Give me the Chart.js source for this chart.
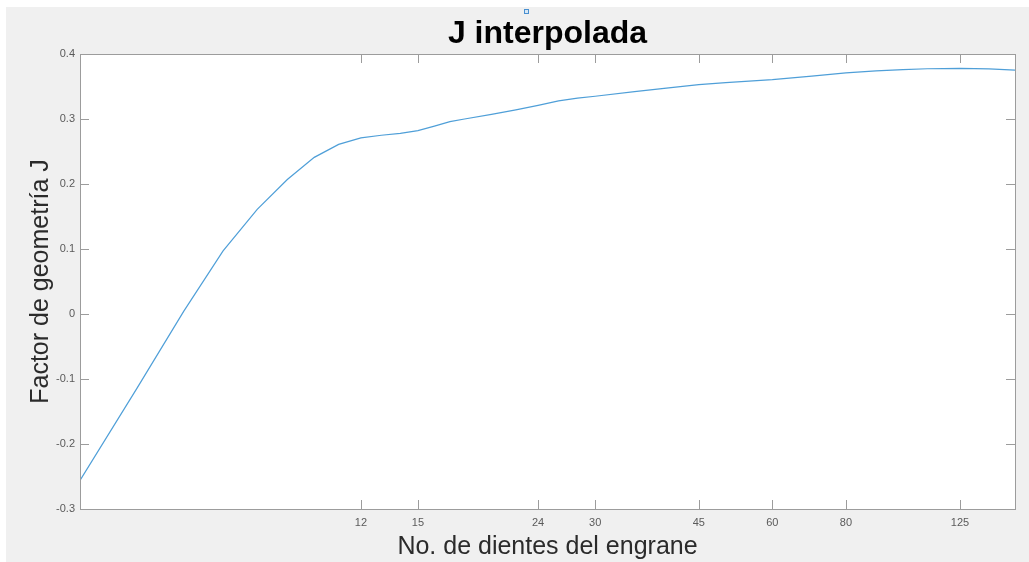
<!DOCTYPE html>
<html>
<head>
<meta charset="utf-8">
<title>J interpolada</title>
<script src="https://cdn.jsdelivr.net/npm/chart.js@4.4.1/dist/chart.umd.min.js"></script>
<style>
  html, body { margin: 0; padding: 0; background: #ffffff; }
  #wrap { width: 1029px; height: 562px; position: relative; }
  canvas { display: block; }
</style>
</head>
<body>
<div id="wrap"><canvas id="chart" width="1029" height="562"></canvas></div>
<script>
// Number of teeth of the gear (x) and interpolated geometry factor J (y)
const teeth = [4, 5, 6, 7, 8, 9, 10, 11, 12, 13, 14, 15, 16, 17, 18, 20, 22, 24, 26, 28,
               30, 35, 40, 45, 50, 60, 70, 80, 90, 100, 110, 125, 140, 155];
const jFactor = [-0.256, -0.114, 0.004, 0.097, 0.161, 0.207, 0.241, 0.261, 0.271, 0.275,
                 0.278, 0.282, 0.289, 0.296, 0.300, 0.307, 0.314, 0.321, 0.328, 0.332,
                 0.335, 0.342, 0.348, 0.353, 0.356, 0.3605, 0.366, 0.371, 0.374, 0.376,
                 0.3773, 0.378, 0.3772, 0.3752];

// Axis ticks
const xTicks = [12, 15, 24, 30, 45, 60, 80, 125];
const yTicks = [-0.3, -0.2, -0.1, 0, 0.1, 0.2, 0.3, 0.4];

const chartTitle = 'J interpolada';

const FONT = '"Liberation Sans", Arial, Helvetica, sans-serif';
const AXIS_GRAY = '#9c9c9c';
const TICK_LEN = 9;

// Figure background, white axes area, box frame, inward tick marks and title
const frame = {
  id: 'frame',
  beforeDraw(chart) {
    const { ctx, chartArea: a, width, height } = chart;
    ctx.save();
    ctx.fillStyle = '#ffffff';
    ctx.fillRect(0, 0, width, height);
    ctx.fillStyle = '#f0f0f0';
    ctx.fillRect(6, 7, width - 6, height - 7);
    ctx.fillStyle = '#ffffff';
    ctx.fillRect(a.left, a.top, a.right - a.left, a.bottom - a.top);
    ctx.restore();
  },
  afterDraw(chart) {
    const { ctx, chartArea: a, scales } = chart;
    ctx.save();
    ctx.strokeStyle = AXIS_GRAY;
    ctx.lineWidth = 1;
    ctx.beginPath();
    xTicks.forEach(v => {
      const x = Math.round(scales.x.getPixelForValue(v)) + 0.5;
      ctx.moveTo(x, a.bottom); ctx.lineTo(x, a.bottom - TICK_LEN);
      ctx.moveTo(x, a.top); ctx.lineTo(x, a.top + TICK_LEN);
    });
    yTicks.forEach(v => {
      const y = Math.round(scales.y.getPixelForValue(v)) + 0.5;
      ctx.moveTo(a.left, y); ctx.lineTo(a.left + TICK_LEN, y);
      ctx.moveTo(a.right, y); ctx.lineTo(a.right - TICK_LEN, y);
    });
    ctx.stroke();
    ctx.strokeRect(Math.round(a.left) + 0.5, Math.round(a.top) + 0.5,
                   Math.round(a.right - a.left), Math.round(a.bottom - a.top));

    // title centred over the axes area
    const cx = (a.left + a.right) / 2;
    ctx.fillStyle = '#000000';
    ctx.font = 'bold 32px ' + FONT;
    ctx.textAlign = 'center';
    ctx.textBaseline = 'alphabetic';
    ctx.fillText(chartTitle, cx, 43);

    // small square handle above the title
    ctx.strokeStyle = '#4a90d0';
    ctx.fillStyle = '#d8e8f6';
    const hx = Math.round(cx) - 22;
    ctx.fillRect(hx - 2, 9, 5, 5);
    ctx.strokeRect(hx - 2 + 0.5, 9 + 0.5, 4, 4);
    ctx.restore();
  }
};

new Chart(document.getElementById('chart'), {
  type: 'line',
  data: {
    datasets: [{
      data: teeth.map((t, i) => ({ x: t, y: jFactor[i] })),
      borderColor: '#4f9fd8',
      borderWidth: 1.2,
      pointRadius: 0,
      tension: 0,
      fill: false
    }]
  },
  options: {
    responsive: false,
    animation: false,
    devicePixelRatio: 1,
    layout: { padding: { left: 0, right: 14, top: 54, bottom: 0 } },
    plugins: {
      legend: { display: false },
      tooltip: { enabled: false },
      title: { display: false }
    },
    scales: {
      x: {
        type: 'logarithmic',
        min: 4,
        max: 155,
        grid: { display: false, drawTicks: false },
        border: { display: false },
        afterBuildTicks: s => { s.ticks = xTicks.map(v => ({ value: v })); },
        afterFit: s => { s.height = 53; },
        ticks: {
          autoSkip: false,
          maxRotation: 0,
          padding: 7,
          color: '#5a5a5a',
          font: { family: FONT, size: 11 },
          callback: v => String(v)
        },
        title: {
          display: true,
          text: 'No. de dientes del engrane',
          color: '#2b2b2b',
          font: { family: FONT, size: 25, lineHeight: 1.2 },
          padding: { top: 0, bottom: 0 }
        }
      },
      y: {
        type: 'linear',
        min: -0.3,
        max: 0.4,
        grid: { display: false, drawTicks: false },
        border: { display: false },
        afterBuildTicks: s => { s.ticks = yTicks.map(v => ({ value: v })); },
        afterFit: s => { s.width = 80; },
        ticks: {
          padding: 5,
          color: '#5a5a5a',
          font: { family: FONT, size: 11 },
          callback: v => String(Number(v.toFixed(1)))
        },
        title: {
          display: true,
          text: 'Factor de geometría J',
          color: '#2b2b2b',
          font: { family: FONT, size: 25, lineHeight: 1.2 },
          padding: { top: 26, bottom: 0 }
        }
      }
    }
  },
  plugins: [frame]
});
</script>
</body>
</html>
